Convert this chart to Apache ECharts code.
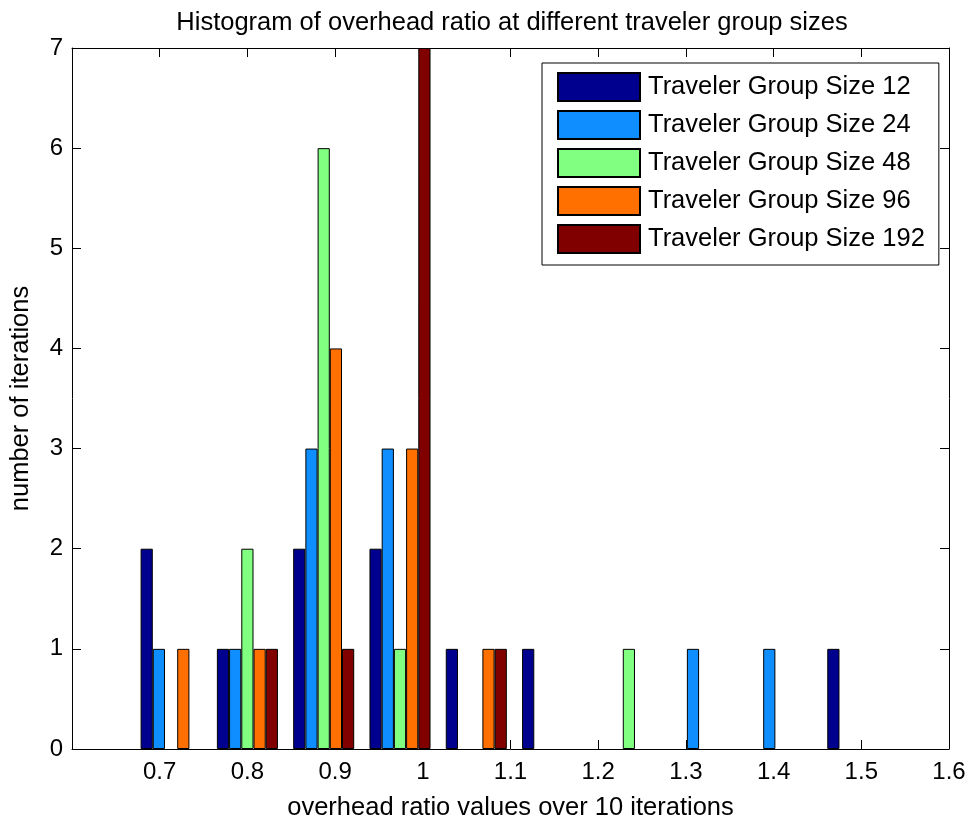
<!DOCTYPE html>
<html>
<head>
<meta charset="utf-8">
<script src="https://cdn.jsdelivr.net/npm/echarts@6/dist/echarts.min.js"></script>
<style>
html,body{margin:0;padding:0;background:#fff;}
#chart{width:969px;height:820px;}
</style>
</head>
<body>
<div id="chart"></div>
<script>
// Histogram bin centres (overhead ratio values)
const binCenters = [0.713, 0.800, 0.887, 0.974, 1.061, 1.148, 1.235, 1.322, 1.409, 1.496];
// Counts per bin for each traveler group size
const size12  = [2, 1, 2, 2, 1, 1, 0, 0, 0, 1];
const size24  = [1, 1, 3, 3, 0, 0, 0, 1, 1, 0];
const size48  = [0, 2, 6, 1, 0, 0, 1, 0, 0, 0];
const size96  = [1, 1, 4, 3, 1, 0, 0, 0, 0, 0];
const size192 = [0, 1, 1, 7, 1, 0, 0, 0, 0, 0];
const seriesNames = ['Traveler Group Size 12', 'Traveler Group Size 24', 'Traveler Group Size 48', 'Traveler Group Size 96', 'Traveler Group Size 192'];
const seriesCounts = [size12, size24, size48, size96, size192];
const seriesColors = ['#00008F', '#0F8FFF', '#80FF80', '#FF7000', '#800000'];
// Axis ranges / ticks
const xMin = 0.6, xMax = 1.6, xStep = 0.1;
const yMin = 0, yMax = 7, yStep = 1;

const FONT = 'Liberation Sans, Arial, Helvetica, sans-serif';
const TXT = 25.5;

const chart = echarts.init(document.getElementById('chart'), null, {renderer: 'canvas'});

const tickInside = {show: true, inside: true, length: 9, lineStyle: {color: '#000', width: 1}};
const lineBlack = {show: true, onZero: false, lineStyle: {color: '#000', width: 1}};

const series = seriesNames.map((name, i) => ({
  name: name,
  type: 'bar',
  xAxisIndex: 0,
  yAxisIndex: 0,
  barGap: '0%',
  barCategoryGap: '20%',
  itemStyle: {color: seriesColors[i], borderColor: '#000', borderWidth: 1},
  emphasis: {disabled: true},
  // zero-count bins are drawn as empty (no visible bar)
  data: binCenters.map((c, k) => [c, seriesCounts[i][k] === 0 ? '-' : seriesCounts[i][k]])
}));

chart.setOption({
  backgroundColor: '#fff',
  animation: false,
  title: {
    text: 'Histogram of overhead ratio at different traveler group sizes',
    left: 507,
    textAlign: 'center',
    top: 5,
    textStyle: {fontFamily: FONT, fontSize: TXT, fontWeight: 'normal', color: '#000'}
  },
  legend: {
    orient: 'vertical',
    left: 542,
    top: 63,
    itemWidth: 82,
    itemHeight: 28,
    itemGap: 8,
    padding: [9, 14, 11, 15],
    borderColor: '#000',
    borderWidth: 1,
    backgroundColor: '#fff',
    icon: 'rect',
    selectedMode: false,
    textStyle: {fontFamily: FONT, fontSize: TXT, lineHeight: 28, color: '#000', padding: [0, 0, 0, 3]},
    data: seriesNames
  },
  grid: {left: 72, right: 20, top: 48, bottom: 71, containLabel: false, outerBoundsMode: 'none'},
  xAxis: [
    {
      type: 'value', min: xMin, max: xMax, interval: xStep,
      position: 'bottom',
      name: 'overhead ratio values over 10 iterations',
      nameLocation: 'middle',
      nameGap: 46,
      nameTextStyle: {fontFamily: FONT, fontSize: TXT, color: '#000'},
      axisLine: lineBlack,
      axisTick: tickInside,
      axisLabel: {fontFamily: FONT, fontSize: 24, color: '#000', margin: 11, showMinLabel: false},
      splitLine: {show: false}
    },
    {
      type: 'value', min: xMin, max: xMax, interval: xStep,
      position: 'top',
      axisLine: lineBlack,
      axisTick: tickInside,
      axisLabel: {show: false},
      splitLine: {show: false}
    }
  ],
  yAxis: [
    {
      type: 'value', min: yMin, max: yMax, interval: yStep,
      position: 'left',
      name: 'number of iterations',
      nameLocation: 'middle',
      nameGap: 38,
      nameTextStyle: {fontFamily: FONT, fontSize: TXT, color: '#000'},
      axisLine: lineBlack,
      axisTick: tickInside,
      axisLabel: {fontFamily: FONT, fontSize: 24, color: '#000', margin: 9},
      splitLine: {show: false}
    },
    {
      type: 'value', min: yMin, max: yMax, interval: yStep,
      position: 'right',
      axisLine: lineBlack,
      axisTick: tickInside,
      axisLabel: {show: false},
      splitLine: {show: false}
    }
  ],
  series: series
});
</script>
</body>
</html>
